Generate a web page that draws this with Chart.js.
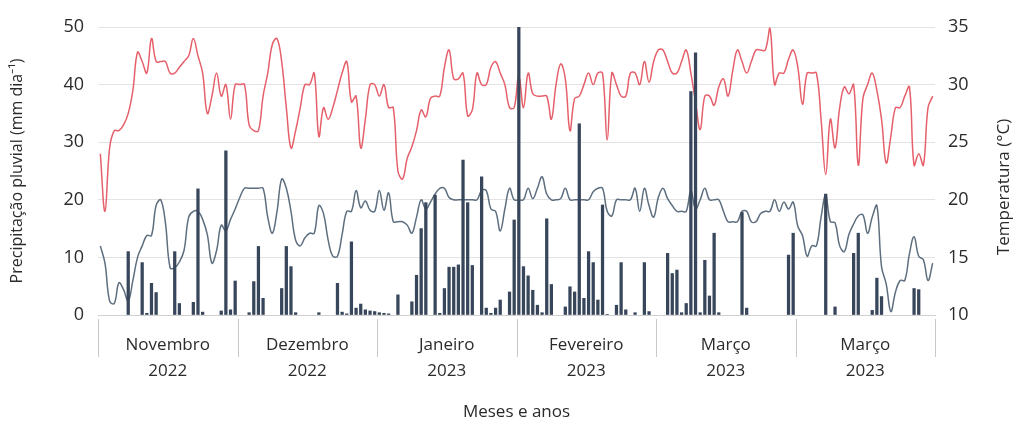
<!DOCTYPE html>
<html>
<head>
<meta charset="utf-8">
<script src="https://cdn.jsdelivr.net/npm/chart.js"></script>
<style>
  html, body { margin: 0; padding: 0; background: #fff; }
  #wrap { width: 1024px; height: 430px; }
</style>
</head>
<body>
<div id="wrap"><canvas id="chart" width="1024" height="430"></canvas></div>
<script>
// month groups along the x axis (30 daily points each)
const groupNames = ['Novembro', 'Dezembro', 'Janeiro', 'Fevereiro', 'Março', 'Março'];
const groupYears = ['2022', '2022', '2023', '2023', '2023', '2023'];
const daysPerGroup = 30;

// daily rainfall, mm
const rain = [
  0, 0, 0, 0, 0, 0, 11, 0, 0, 9.1, 0.3, 5.5, 3.9, 0, 0, 0, 11, 2, 0, 0, 2.2, 21.9, 0.5, 0, 0, 0, 0.7, 28.5, 0.9, 5.9,
  0, 0, 0.4, 5.8, 11.9, 2.9, 0, 0, 0, 4.6, 11.9, 8.4, 0.4, 0, 0, 0, 0, 0.4, 0, 0, 0, 5.5, 0.5, 0.2, 12.7, 1.2, 1.9, 0.9, 0.7, 0.6,
  0.4, 0.3, 0.2, 0, 3.5, 0, 0, 2.3, 6.9, 15, 19.5, 0, 20.8, 0.3, 4.6, 8.3, 8.3, 8.7, 26.9, 19.5, 8.6, 0, 24, 1.2, 0.3, 1.2, 2.6, 0, 4, 16.5,
  50, 8.4, 6.8, 4.3, 1.7, 0.4, 16.7, 5.3, 0, 0, 1.4, 4.9, 4, 33.2, 2.9, 11, 9.1, 2.6, 19.1, 0.1, 0, 1.7, 9.1, 0.9, 0, 0.4, 0, 9.1, 0.6, 0,
  0, 0, 10.7, 7.2, 7.8, 0.4, 2, 38.8, 45.5, 0.4, 9.5, 3.3, 14.2, 0.4, 0, 0, 0, 0, 17.8, 1.2, 0, 0, 0, 0, 0, 0, 0, 0, 10.4, 14.2,
  0, 0, 0, 0, 0, 0, 21, 0, 1.4, 0, 0, 0, 10.7, 14.2, 0, 0, 0.8, 6.4, 3.2, 0, 0, 0, 0, 0, 0, 4.6, 4.4, 0, 0, 0
];

// daily maximum temperature, °C
const tMax = [
  24, 19, 24.5, 26, 26, 26.5, 27.5, 29.5, 32.8, 32, 31, 34, 32, 32, 32, 31, 31, 31.5, 32, 32.5, 34, 32.5, 31, 27.5, 29, 31, 29, 30, 27, 30,
  30, 30, 26.5, 26, 26, 29, 31, 33.5, 34, 32, 28, 24.5, 26, 28, 30, 30, 31, 25.5, 28, 27, 28, 29.5, 31, 32, 28.5, 29, 24.5, 27, 30, 30,
  29, 30, 28, 28, 22.5, 21.8, 23.6, 24.6, 26, 27.8, 27.2, 28.8, 29, 29, 31.5, 33, 30.5, 30.5, 31, 27.3, 27.8, 31, 30, 30, 31.5, 32, 31, 30, 28, 28,
  30.8, 28, 31, 29.2, 29, 29, 29, 27, 30, 31.8, 30.5, 26, 28.8, 29, 30, 31, 30, 31, 31, 25.2, 31, 30, 29, 29, 31, 31, 30, 32, 30.2, 32,
  33, 33, 32, 31, 31, 32, 33, 31, 28.5, 26.1, 29, 29, 28.2, 29.8, 30.5, 29, 31.2, 33, 32, 31, 32, 33, 33, 33, 34.9, 30, 31, 31, 32.2, 33,
  31.5, 28.3, 31, 31, 31, 27, 22.2, 27, 24.5, 28, 29.8, 29.2, 30, 23, 28.8, 30, 31, 29.5, 27, 23.2, 25.5, 28, 28, 29, 29.8, 23, 24, 23, 28, 29
];

// daily minimum temperature, °C
const tMin = [
  16, 14.5, 11.2, 11, 12.8, 12.2, 11.2, 13, 15, 16, 16.9, 16.9, 19.5, 20, 18, 14.1, 14.1, 14.6, 15.6, 18.5, 19, 19, 18.3, 17, 14.5, 15.6, 17.8, 17.3, 18.3, 19.2,
  20.2, 21, 21, 21, 21, 21, 18.5, 17.1, 19, 21.8, 21, 19, 16.5, 16, 16.7, 17.1, 17.1, 19.5, 18.8, 16.5, 15.1, 15.1, 17, 19, 19, 20.8, 19.3, 19.9, 19.1, 19,
  20.8, 19.1, 20.6, 18.1, 18.1, 18.1, 17.8, 17.1, 18.5, 20, 19.2, 19.8, 20.5, 21, 21, 20.2, 20, 20, 20, 20, 20, 20, 20.8, 20.8, 19.2, 19, 17.3, 19.2, 21, 20,
  20, 20, 21, 20.1, 21, 22, 20.5, 20, 20, 20.1, 21, 20, 20, 20, 20, 20, 20.7, 21, 21, 19, 18.6, 20, 20, 20, 20, 21, 19, 21, 19.5, 18.5,
  20.2, 21, 20.1, 19.5, 19, 19, 19, 20.8, 19.2, 20, 21, 20, 20, 20, 19, 18.1, 18.1, 18.1, 19, 19, 18.1, 18.1, 18.8, 19, 19, 20, 19, 19.8, 19.2, 19.8,
  17.7, 16.9, 15.1, 16, 16, 18.5, 20.4, 18.1, 18, 16, 15.5, 17, 17.9, 18.6, 18.7, 17.1, 18.5, 19.5, 14.2, 12.7, 10.3, 12, 13, 13, 15.3, 16.8, 15.1, 14.8, 13, 14.5
];

const rainTicks = [0, 10, 20, 30, 40, 50];
const tempTicks = [10, 15, 20, 25, 30, 35];

// one category per day, named by group and day number
const days = [];
groupNames.forEach(function(name, g) {
  for (let d = 1; d <= daysPerGroup; d++) days.push(name + ' ' + groupYears[g] + ' ' + d);
});

const FONT = "'Open Sans', sans-serif";
const TEXT = '#2b2b2b';

// draws the two-level month/year labels under the x axis and the right axis title
const groupLabels = {
  id: 'groupLabels',
  afterDraw(chart) {
    const x = chart.scales.x;
    const ctx = chart.ctx;
    const half = (x.getPixelForValue(1) - x.getPixelForValue(0)) / 2;
    const top = chart.chartArea.bottom;
    ctx.save();
    ctx.strokeStyle = '#c8c8c8';
    ctx.lineWidth = 1;
    const edges = [];
    for (let g = 0; g <= groupNames.length; g++) {
      const px = g < groupNames.length
        ? x.getPixelForValue(g * daysPerGroup) - half
        : x.getPixelForValue(days.length - 1) + half;
      edges.push(px);
      ctx.beginPath();
      ctx.moveTo(Math.round(px) + 0.5, top + 4);
      ctx.lineTo(Math.round(px) + 0.5, top + 42);
      ctx.stroke();
    }
    ctx.fillStyle = TEXT;
    ctx.font = '17px ' + FONT;
    ctx.textAlign = 'center';
    ctx.textBaseline = 'middle';
    groupNames.forEach(function(name, g) {
      const cx = (edges[g] + edges[g + 1]) / 2;
      ctx.fillText(name, cx, top + 30);
      ctx.fillText(groupYears[g], cx, top + 56);
    });

    // right axis title, reading bottom to top
    const y1 = chart.scales.y1;
    ctx.translate(y1.right - 20, 187);
    ctx.rotate(-Math.PI / 2);
    ctx.font = '17px ' + FONT;
    ctx.fillText('Temperatura (°C)', 0, 0);
    ctx.restore();
  }
};

new Chart(document.getElementById('chart'), {
  data: {
    labels: days,
    datasets: [
      {
        type: 'bar',
        label: 'Precipitação',
        // dry days get no bar at all
        data: rain.map(v => (v > 0 ? v : null)),
        yAxisID: 'y',
        backgroundColor: '#37465a',
        barThickness: 2.6,
        order: 0
      },
      {
        type: 'line',
        label: 'Temperatura máxima',
        data: tMax,
        yAxisID: 'y1',
        borderColor: '#e5606a',
        borderWidth: 1.5,
        pointRadius: 0,
        tension: 0.4,
        order: 1
      },
      {
        type: 'line',
        label: 'Temperatura mínima',
        data: tMin,
        yAxisID: 'y1',
        borderColor: '#5d6e7f',
        borderWidth: 1.5,
        pointRadius: 0,
        tension: 0.4,
        order: 2
      }
    ]
  },
  options: {
    responsive: false,
    animation: false,
    layout: { padding: { top: 27, left: 0, right: 0, bottom: 0 } },
    plugins: {
      legend: { display: false },
      tooltip: { enabled: false }
    },
    scales: {
      x: {
        type: 'category',
        offset: true,
        grid: { display: false },
        border: { color: '#d0d0d0' },
        ticks: { display: false },
        title: {
          display: true,
          text: 'Meses e anos',
          color: TEXT,
          font: { family: FONT, size: 17 },
          padding: { top: 0, bottom: 8 }
        },
        afterFit(scale) { scale.height = 115; }
      },
      y: {
        position: 'left',
        min: 0,
        max: 50,
        afterBuildTicks(scale) { scale.ticks = rainTicks.map(v => ({ value: v })); },
        grid: { color: '#e3e3e3', drawTicks: false },
        border: { display: false },
        ticks: { color: TEXT, padding: 14, font: { family: FONT, size: 18 } },
        title: {
          display: true,
          text: 'Precipitação pluvial (mm dia⁻¹)',
          color: TEXT,
          font: { family: FONT, size: 16 },
          padding: { top: 8, bottom: 0 }
        },
        afterFit(scale) { scale.width = 98; }
      },
      y1: {
        position: 'right',
        min: 10,
        max: 35,
        afterBuildTicks(scale) { scale.ticks = tempTicks.map(v => ({ value: v })); },
        grid: { drawOnChartArea: false, drawTicks: false },
        border: { display: false },
        ticks: { color: TEXT, padding: 13, font: { family: FONT, size: 18 } },
        afterFit(scale) { scale.width = 89; }
      }
    }
  },
  plugins: [groupLabels]
});
</script>
</body>
</html>
